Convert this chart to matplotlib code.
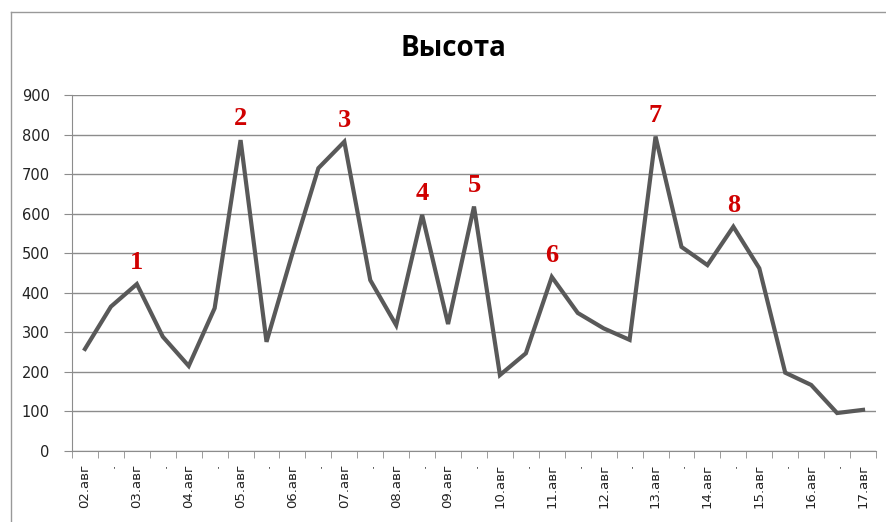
import matplotlib.pyplot as plt
from matplotlib.lines import Line2D
import numpy as np

# data
dates = ["02.авг", "03.авг", "04.авг", "05.авг", "06.авг", "07.авг", "08.авг", "09.авг",
         "10.авг", "11.авг", "12.авг", "13.авг", "14.авг", "15.авг", "16.авг", "17.авг"]
heights = [258, 365, 422, 289, 215, 361, 786, 276, 500, 715, 782, 432, 318, 597, 321, 618,
           192, 247, 440, 349, 310, 281, 795, 516, 470, 567, 462, 198, 167, 96, 104]
peak_idx = [2, 6, 10, 13, 15, 18, 22, 25]
peak_names = ["1", "2", "3", "4", "5", "6", "7", "8"]

# every other category has a "." label
labels = []
for i, d in enumerate(dates):
    labels.append(d)
    if i < len(dates) - 1:
        labels.append(".")

x = np.arange(len(heights))

fig = plt.figure(figsize=(8.86, 5.22), dpi=100)
ax = fig.add_axes([72 / 886, 1 - 451 / 522, (876 - 72) / 886, (451 - 95) / 522])

grey = "#8c8c8c"
ax.plot(x, heights, color="#595959", lw=3.0, solid_joinstyle="miter", zorder=3)

for i, name in zip(peak_idx, peak_names):
    ax.annotate(name, (x[i], heights[i]), xytext=(0, 7), textcoords="offset points",
                ha="center", va="bottom", color="#d00000", fontsize=19,
                fontweight="bold", family="Liberation Serif")

ax.set_xlim(-0.5, len(heights) - 0.5)
ax.set_ylim(0, 900)
ax.set_yticks(range(0, 901, 100))
ax.yaxis.grid(True, color=grey, lw=1)
ax.set_axisbelow(True)

ax.set_xticks(x)
ax.set_xticklabels(labels, rotation=90, fontsize=9.5, color="#222222")
ax.set_xticks(np.arange(-0.5, len(heights)), minor=True)
ax.tick_params(axis="x", which="major", length=0, pad=9)
ax.tick_params(axis="x", which="minor", length=5, color=grey, direction="out")
ax.tick_params(axis="y", length=6, color=grey, labelsize=10.5, labelcolor="#222222", pad=10)

for s in ["top", "right"]:
    ax.spines[s].set_visible(False)
for s in ["left", "bottom"]:
    ax.spines[s].set_color(grey)

fig.text(453 / 886, 1 - 49 / 522, "Высота", ha="center", va="center",
         fontsize=20, fontweight="bold", family="Open Sans")

# outer chart frame (left and top edges visible)
fig.add_artist(Line2D([11 / 886, 11 / 886], [0, 1 - 12 / 522], color="#999999", lw=1,
                      transform=fig.transFigure))
fig.add_artist(Line2D([11 / 886, 1], [1 - 12 / 522, 1 - 12 / 522], color="#999999", lw=1,
                      transform=fig.transFigure))

fig.savefig("out.png", dpi=100)
